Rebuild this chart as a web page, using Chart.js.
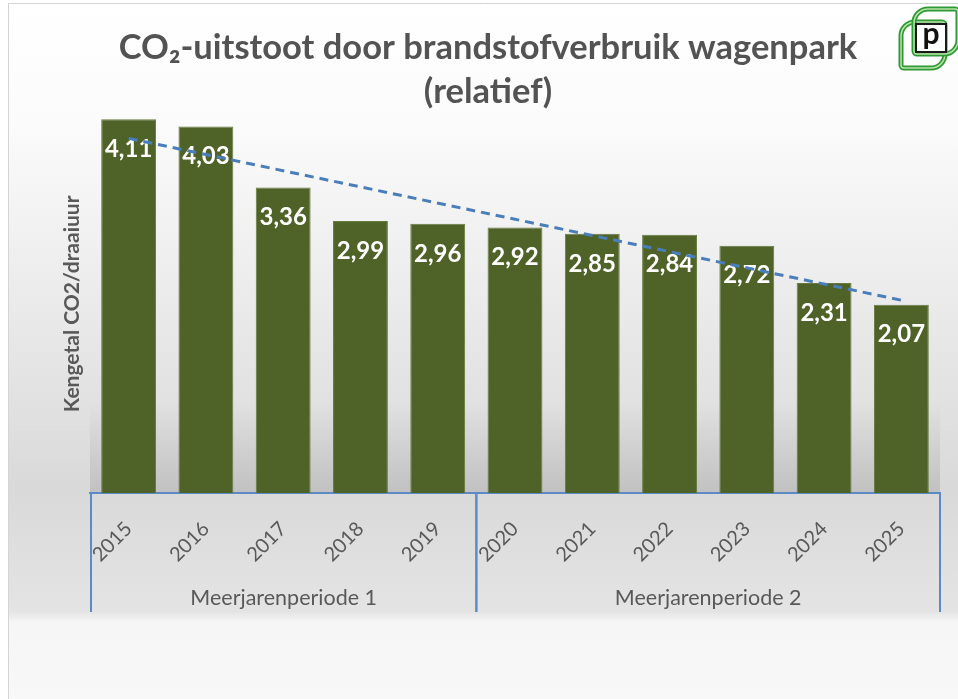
<!DOCTYPE html>
<html>
<head>
<meta charset="utf-8">
<script src="https://cdn.jsdelivr.net/npm/chart.js@4"></script>
<style>
  html, body { margin: 0; padding: 0; background: #fff; }
  .wrapper { width: 958px; height: 699px; position: relative; }
</style>
</head>
<body>
<div class="wrapper"><canvas id="myChart"></canvas></div>
<script>
//data
const years = ['2015', '2016', '2017', '2018', '2019', '2020', '2021', '2022', '2023', '2024', '2025'];
const values = [4.11, 4.03, 3.36, 2.99, 2.96, 2.92, 2.85, 2.84, 2.72, 2.31, 2.07];
// trendline: start and end only
const trend = [3.90, null, null, null, null, null, null, null, null, null, 2.12];
const groups = ['Meerjarenperiode 1', 'Meerjarenperiode 2'];
const groupSizes = [5, 6];

const grey = '#595959';
const blue = '#5b8ac6';

//background + frame
const backdrop = {
  id: 'backdrop',
  beforeDraw(chart) {
    const ctx = chart.ctx;
    const h = chart.height;
    const g = ctx.createLinearGradient(0, 0, 0, h);
    g.addColorStop(0, '#ffffff');
    g.addColorStop(0.18, '#fbfbfb');
    g.addColorStop(0.70, '#d9d9d9');
    g.addColorStop(0.875, '#e4e4e4');
    g.addColorStop(0.89, '#f6f6f6');
    g.addColorStop(1, '#f8f8f8');
    ctx.save();
    ctx.fillStyle = g;
    ctx.fillRect(8, 3, chart.width - 8, h - 3);
    // soft ground shadow behind the bars
    const a = chart.chartArea;
    const s = ctx.createLinearGradient(0, a.bottom - 90, 0, a.bottom);
    s.addColorStop(0, 'rgba(150,150,150,0)');
    s.addColorStop(1, 'rgba(150,150,150,0.35)');
    ctx.fillStyle = s;
    ctx.fillRect(a.left, a.bottom - 90, a.right - a.left, 90);
    ctx.strokeStyle = '#d4d4d4';
    ctx.lineWidth = 1;
    ctx.beginPath();
    ctx.moveTo(8.5, h);
    ctx.lineTo(8.5, 3.5);
    ctx.lineTo(chart.width, 3.5);
    ctx.stroke();
    ctx.restore();
  }
};

//values inside the bars
const barLabels = {
  id: 'barLabels',
  afterDatasetDraw(chart, args) {
    if (args.index !== 0) return;
    const ctx = chart.ctx;
    ctx.save();
    ctx.fillStyle = '#ffffff';
    ctx.font = 'bold 24px Lato';
    ctx.textAlign = 'center';
    ctx.textBaseline = 'middle';
    args.meta.data.forEach((bar, i) => {
      ctx.fillText(values[i].toFixed(2).replace('.', ','), bar.x, bar.y + 30);
    });
    ctx.restore();
  }
};

//group brackets under the axis
const groupBrackets = {
  id: 'groupBrackets',
  afterDraw(chart) {
    const ctx = chart.ctx;
    const x = chart.scales.x;
    const a = chart.chartArea;
    const bottom = 612;
    ctx.save();
    ctx.strokeStyle = blue;
    ctx.lineWidth = 2;
    ctx.fillStyle = grey;
    ctx.font = '21.5px Lato';
    ctx.textAlign = 'center';
    ctx.textBaseline = 'middle';
    let start = 0;
    let left = a.left + 1;
    groups.forEach((name, gi) => {
      const end = start + groupSizes[gi] - 1;
      const right = end === years.length - 1 ? a.right : (x.getPixelForValue(end) + x.getPixelForValue(end + 1)) / 2;
      ctx.beginPath();
      ctx.moveTo(left, a.bottom);
      ctx.lineTo(left, bottom);
      ctx.moveTo(right, a.bottom);
      ctx.lineTo(right, bottom);
      ctx.stroke();
      ctx.fillText(name, (left + right) / 2, 598);
      start = end + 1;
      left = right;
    });
    ctx.restore();
  }
};

//logo top right
const logo = {
  id: 'logo',
  afterDraw(chart) {
    const ctx = chart.ctx;
    const shapes = [[901, 22, 44, 46], [914, 9, 44, 45]];
    ctx.save();
    shapes.forEach(([x, y, w, h]) => {
      ctx.lineWidth = 5;
      ctx.strokeStyle = '#2f9a35';
      ctx.beginPath();
      ctx.roundRect(x, y, w, h, [14, 3, 14, 3]);
      ctx.stroke();
      ctx.lineWidth = 1.5;
      ctx.strokeStyle = '#b8e3a8';
      ctx.stroke();
    });
    ctx.fillStyle = '#ffffff';
    ctx.fillRect(916, 24, 30, 28);
    ctx.strokeStyle = '#1a1a1a';
    ctx.lineWidth = 2;
    ctx.strokeRect(916, 24, 30, 28);
    ctx.fillStyle = '#111';
    ctx.font = 'bold 30px Lato';
    ctx.textAlign = 'center';
    ctx.textBaseline = 'middle';
    ctx.fillText('p', 931, 34);
    ctx.restore();
  }
};

const data = {
  labels: years,
  datasets: [
    {
      type: 'bar',
      data: values,
      backgroundColor: '#4f6228',
      borderColor: '#667a3e',
      borderWidth: 1,
      barPercentage: 0.71,
      categoryPercentage: 1,
      order: 2
    },
    {
      type: 'line',
      data: trend,
      spanGaps: true,
      borderColor: '#4a7ebb',
      borderWidth: 3,
      borderDash: [9, 6],
      pointRadius: 0,
      fill: false,
      order: 1
    }
  ]
};

const config = {
  type: 'bar',
  data: data,
  plugins: [backdrop, barLabels, groupBrackets, logo],
  options: {
    responsive: true,
    maintainAspectRatio: false,
    animation: false,
    layout: { padding: { left: 36, right: 18, top: 0, bottom: 0 } },
    plugins: {
      legend: { display: false },
      tooltip: { enabled: false },
      title: {
        display: true,
        text: ['CO\u2082-uitstoot door brandstofverbruik wagenpark', '(relatief)'],
        color: '#535353',
        font: { family: 'Lato', size: 34.5, weight: 'bold', lineHeight: 1.3 },
        padding: { top: 25, bottom: 0 }
      }
    },
    scales: {
      x: {
        grid: { display: false },
        border: { display: true, color: blue, width: 2 },
        ticks: {
          color: grey,
          font: { family: 'Lato', size: 20 },
          maxRotation: 45,
          minRotation: 45,
          padding: 16
        },
        afterFit: (scale) => { scale.height = 206; }
      },
      y: {
        min: 0,
        max: 4.16,
        grid: { display: false },
        border: { display: false },
        ticks: { display: false },
        title: {
          display: true,
          text: 'Kengetal CO2/draaiuur',
          color: grey,
          font: { family: 'Lato', size: 21, weight: 'bold' },
          padding: { top: 24, bottom: 0 }
        },
        afterFit: (scale) => { scale.width = 54; }
      }
    }
  }
};

const myChart = new Chart(document.getElementById('myChart'), config);
</script>
</body>
</html>
